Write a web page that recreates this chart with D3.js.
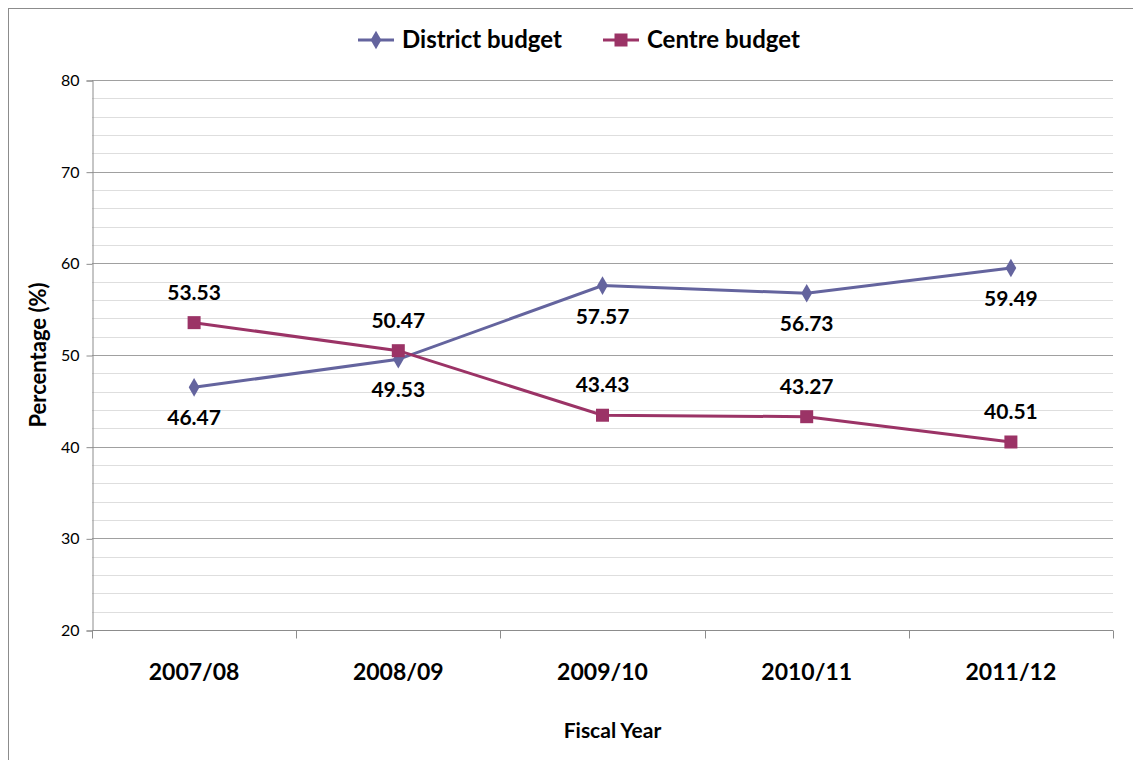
<!DOCTYPE html>
<html>
<head>
<meta charset="utf-8">
<script src="https://cdn.jsdelivr.net/npm/d3@7"></script>
<style>
  body { margin: 0; background: #fff; }
  svg { font-family: Lato, "Open Sans", sans-serif; }
</style>
</head>
<body>
<div id="chart"></div>
<script>
// data
var years = ["2007/08", "2008/09", "2009/10", "2010/11", "2011/12"];
var districtBudget = [46.47, 49.53, 57.57, 56.73, 59.49];
var centreBudget = [53.53, 50.47, 43.43, 43.27, 40.51];
var yTicks = [20, 30, 40, 50, 60, 70, 80];

var width = 1133, height = 760;
var margin = {left: 92, right: 20, top: 80, bottom: 130};

var series = [
  {name: "District budget", values: districtBudget, color: "#64649e", shape: "diamond", labelPos: "below"},
  {name: "Centre budget", values: centreBudget, color: "#9b3366", shape: "square", labelPos: "above"}
];

var svg = d3.select("#chart").append("svg")
    .attr("width", width)
    .attr("height", height);

// outer frame
svg.append("rect")
    .attr("x", 8.5).attr("y", 8.5)
    .attr("width", width).attr("height", height)
    .attr("fill", "none")
    .attr("stroke", "#8c8c8c");

var x = d3.scaleBand()
    .domain(years)
    .range([margin.left, width - margin.right]);

var y = d3.scaleLinear()
    .domain([20, 80])
    .range([height - margin.bottom, margin.top]);

// minor gridlines every 2
var minor = d3.range(20, 81, 2).filter(function(d) { return d % 10 !== 0; });
svg.append("g").selectAll("line")
    .data(minor)
  .enter().append("line")
    .attr("x1", margin.left).attr("x2", width - margin.right)
    .attr("y1", function(d) { return Math.round(y(d)) + 0.5; })
    .attr("y2", function(d) { return Math.round(y(d)) + 0.5; })
    .attr("stroke", "#dedede");

// major gridlines
svg.append("g").selectAll("line")
    .data(yTicks)
  .enter().append("line")
    .attr("x1", margin.left).attr("x2", width - margin.right)
    .attr("y1", function(d) { return Math.round(y(d)) + 0.5; })
    .attr("y2", function(d) { return Math.round(y(d)) + 0.5; })
    .attr("stroke", "#a0a0a0");

// y axis
var yAxis = svg.append("g")
    .attr("transform", "translate(" + (margin.left + 0.5) + ",0.5)")
    .call(d3.axisLeft(y).tickValues(yTicks).tickSize(6).tickPadding(7));
yAxis.attr("font-family", null);
yAxis.select(".domain").attr("stroke", "#8c8c8c");
yAxis.selectAll(".tick line").attr("stroke", "#8c8c8c");
yAxis.selectAll(".tick text")
    .attr("font-size", 16)
    .attr("fill", "#000");

// x axis: ticks at category boundaries
var xAxis = svg.append("g")
    .attr("transform", "translate(0," + (Math.round(y(20)) + 0.5) + ")");
xAxis.append("line")
    .attr("x1", margin.left).attr("x2", width - margin.right)
    .attr("stroke", "#8c8c8c");
var bounds = years.map(function(d) { return x(d); }).concat([x(years[years.length - 1]) + x.bandwidth()]);
xAxis.selectAll(".bt")
    .data(bounds)
  .enter().append("line")
    .attr("x1", function(d) { return Math.round(d) + 0.5; })
    .attr("x2", function(d) { return Math.round(d) + 0.5; })
    .attr("y1", 0).attr("y2", 8)
    .attr("stroke", "#8c8c8c");
xAxis.selectAll(".cat")
    .data(years)
  .enter().append("text")
    .attr("x", function(d) { return x(d) + x.bandwidth() / 2; })
    .attr("y", 49)
    .attr("text-anchor", "middle")
    .attr("font-size", 23)
    .attr("font-weight", "bold")
    .text(function(d) { return d; });

// axis titles
svg.append("text")
    .attr("x", x(years[2]) + x.bandwidth() / 2 + 10)
    .attr("y", 738)
    .attr("text-anchor", "middle")
    .attr("font-size", 21)
    .attr("font-weight", "bold")
    .text("Fiscal Year");

svg.append("text")
    .attr("transform", "translate(46," + y(50) + ") rotate(-90)")
    .attr("text-anchor", "middle")
    .attr("font-size", 22)
    .attr("font-weight", "bold")
    .text("Percentage (%)");

var line = d3.line()
    .x(function(d, i) { return x(years[i]) + x.bandwidth() / 2; })
    .y(function(d) { return y(d); });

var diamond = d3.symbol().type(d3.symbolDiamond).size(100);

series.forEach(function(s) {
  var g = svg.append("g");
  g.append("path")
      .datum(s.values)
      .attr("d", line)
      .attr("fill", "none")
      .attr("stroke", s.color)
      .attr("stroke-width", 3);

  var pts = g.selectAll(".pt")
      .data(s.values)
    .enter().append("g")
      .attr("transform", function(d, i) {
        return "translate(" + (x(years[i]) + x.bandwidth() / 2) + "," + y(d) + ")";
      });
  if (s.shape === "diamond") {
    pts.append("path").attr("d", diamond).attr("fill", s.color);
  } else {
    pts.append("rect")
        .attr("x", -6.5).attr("y", -6.5)
        .attr("width", 13).attr("height", 13)
        .attr("fill", s.color);
  }

  g.selectAll(".lbl")
      .data(s.values)
    .enter().append("text")
      .attr("x", function(d, i) { return x(years[i]) + x.bandwidth() / 2; })
      .attr("y", function(d) { return y(d) + (s.labelPos === "below" ? 38 : -23); })
      .attr("text-anchor", "middle")
      .attr("font-size", 21)
      .attr("font-weight", "bold")
      .text(function(d) { return d.toFixed(2); });
});

// legend
var legendX = [358, 603];
series.forEach(function(s, i) {
  var lg = svg.append("g").attr("transform", "translate(" + legendX[i] + ",40)");
  lg.append("line")
      .attr("x1", 0).attr("x2", 36)
      .attr("stroke", s.color)
      .attr("stroke-width", 3);
  if (s.shape === "diamond") {
    lg.append("path").attr("d", diamond).attr("transform", "translate(18,0)").attr("fill", s.color);
  } else {
    lg.append("rect").attr("x", 11.5).attr("y", -6.5).attr("width", 13).attr("height", 13).attr("fill", s.color);
  }
  lg.append("text")
      .attr("x", 44)
      .attr("y", 8)
      .attr("font-size", 24)
      .attr("font-weight", "bold")
      .text(s.name);
});
</script>
</body>
</html>
